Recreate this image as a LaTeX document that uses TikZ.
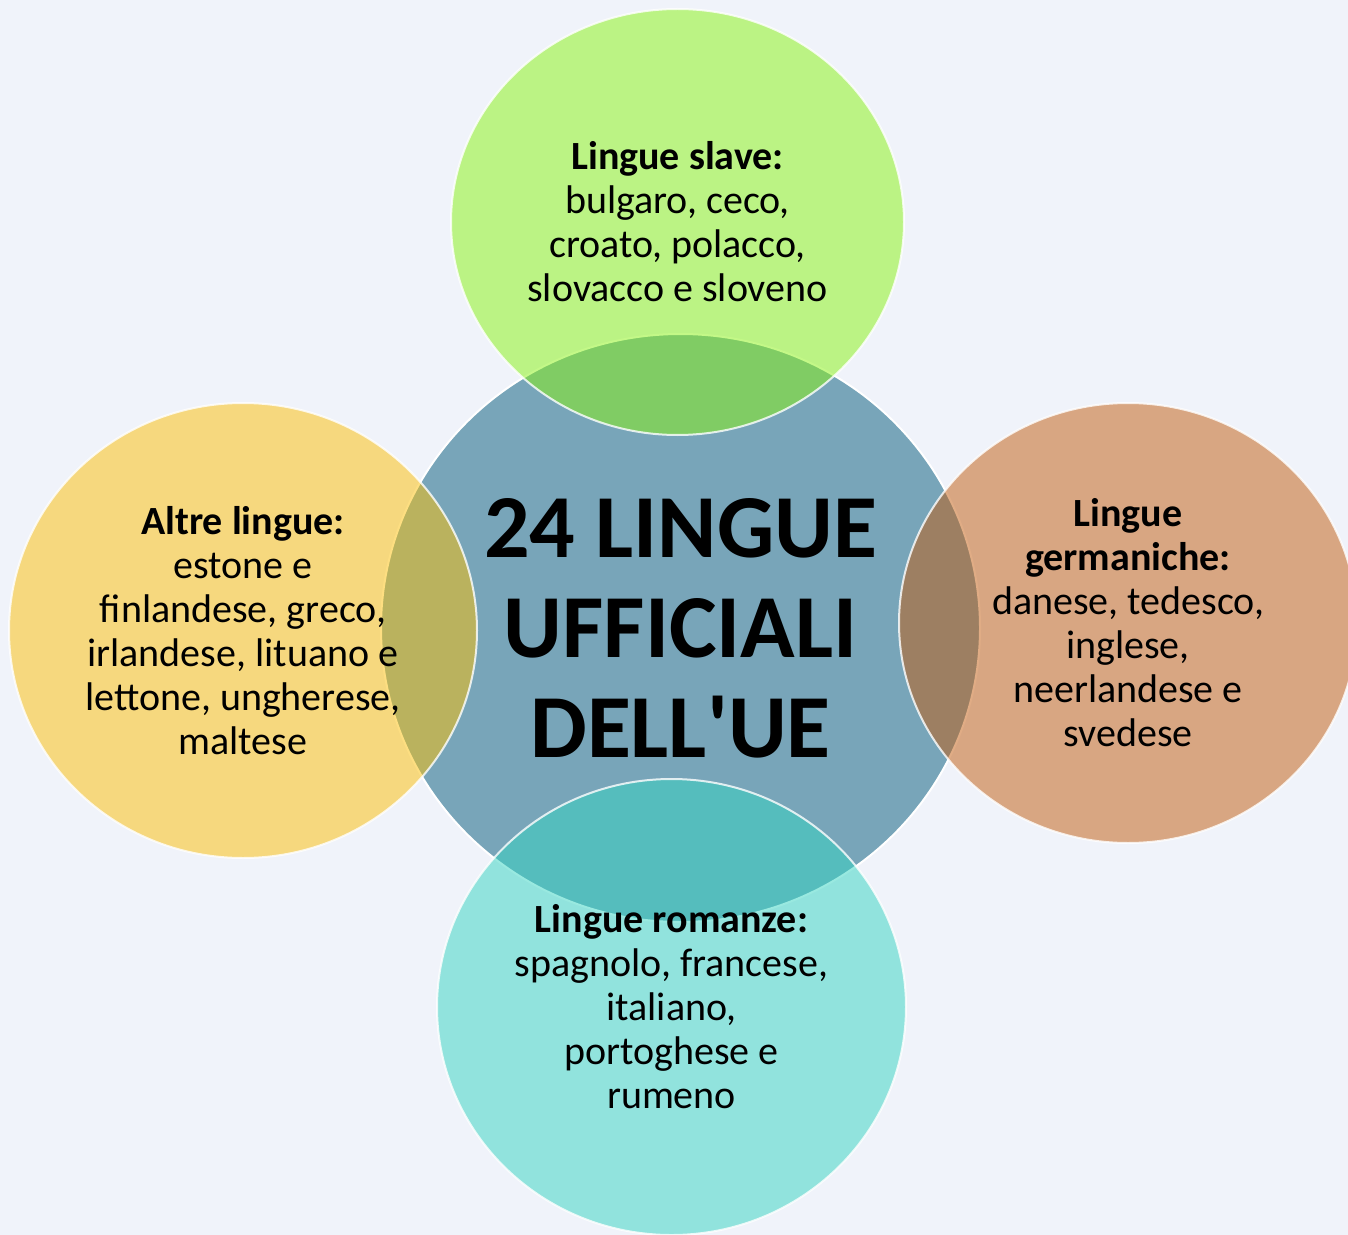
\documentclass[tikz,border=0pt]{standalone}
\usepackage{fontspec}
\setmainfont{Carlito}
\usetikzlibrary{shapes.geometric}

\definecolor{sfondo}{RGB}{240,243,250}
\definecolor{centro}{RGB}{120,165,185}
\definecolor{verde}{RGB}{136,243,16}
\definecolor{giallo}{RGB}{252,191,4}
\definecolor{arancio}{RGB}{194,91,12}
\definecolor{turchese}{RGB}{52,213,194}

\tikzset{
	bolla/.style={ellipse, draw=white, line width=1pt, draw opacity=0.8,
		fill opacity=0.5, text opacity=1, inner sep=0pt, align=center,
		font=\fontsize{20}{22}\selectfont},
	titolo/.style={ellipse, draw=white, line width=1pt, fill=centro,
		inner sep=0pt, align=center, font=\fontsize{45}{50}\selectfont\bfseries}
}

\begin{document}
\begin{tikzpicture}[x=0.5pt, y=-0.5pt]
	\fill[sfondo] (0,0) rectangle (1348,1235);
	\useasboundingbox (0,0) rectangle (1348,1235);

	\node (centro) at (680.5,628) [titolo, minimum width=299.5pt, minimum height=294pt]
		{24 LINGUE\\UFFICIALI\\DELL\textquotesingle UE};

	\node (slave) at (677.5,222) [bolla, fill=verde, minimum width=226.5pt, minimum height=213pt]
		{\textbf{Lingue slave:}\\bulgaro, ceco,\\croato, polacco,\\slovacco e sloveno};
	\node (altre) at (243,630.5) [bolla, fill=giallo, minimum width=234pt, minimum height=227.5pt]
		{\textbf{Altre lingue:}\\estone e\\finlandese, greco,\\irlandese, lituano e\\lettone, ungherese,\\maltese};
	\node (germaniche) at (1128,623) [bolla, fill=arancio, minimum width=229pt, minimum height=220pt]
		{\textbf{Lingue}\\\textbf{germaniche:}\\danese, tedesco,\\inglese,\\neerlandese e\\svedese};
	\node (romanze) at (671.5,1007) [bolla, fill=turchese, minimum width=234.5pt, minimum height=228pt]
		{\textbf{Lingue romanze:}\\spagnolo, francese,\\italiano,\\portoghese e\\rumeno};
\end{tikzpicture}
\end{document}
